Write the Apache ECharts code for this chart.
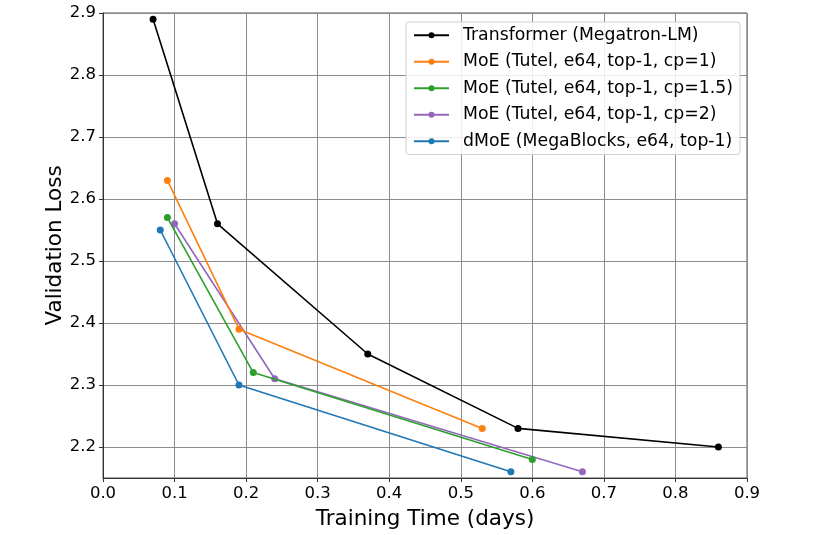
<!DOCTYPE html>
<html>
<head>
<meta charset="utf-8">
<script src="https://cdn.jsdelivr.net/npm/echarts@6/dist/echarts.min.js"></script>
<style>
  html, body { margin: 0; padding: 0; background: #fff; }
  #chart { width: 830px; height: 535px; }
</style>
</head>
<body>
<div id="chart"></div>
<script>
// values
const seriesNames = [
  'Transformer (Megatron-LM)',
  'MoE (Tutel, e64, top-1, cp=1)',
  'MoE (Tutel, e64, top-1, cp=1.5)',
  'MoE (Tutel, e64, top-1, cp=2)',
  'dMoE (MegaBlocks, e64, top-1)'
];
const seriesColors = ['#000000', '#ff7f0e', '#2ca02c', '#9467bd', '#1f77b4'];

const transformerTime = [0.07, 0.16, 0.37, 0.58, 0.86];
const transformerLoss = [2.89, 2.56, 2.35, 2.23, 2.20];
const moeCp1Time = [0.09, 0.19, 0.53];
const moeCp1Loss = [2.63, 2.39, 2.23];
const moeCp15Time = [0.09, 0.21, 0.60];
const moeCp15Loss = [2.57, 2.32, 2.18];
const moeCp2Time = [0.10, 0.24, 0.67];
const moeCp2Loss = [2.56, 2.31, 2.16];
const dmoeTime = [0.08, 0.19, 0.57];
const dmoeLoss = [2.55, 2.30, 2.16];

const yTicks = [2.2, 2.3, 2.4, 2.5, 2.6, 2.7, 2.8, 2.9];

const allTimes = [transformerTime, moeCp1Time, moeCp15Time, moeCp2Time, dmoeTime];
const allLosses = [transformerLoss, moeCp1Loss, moeCp15Loss, moeCp2Loss, dmoeLoss];

const font = 'DejaVu Sans';
const chart = echarts.init(document.getElementById('chart'));

chart.setOption({
  animation: false,
  grid: { left: 103, right: 83, top: 13, bottom: 53, show: true, borderColor: '#555', borderWidth: 1 },
  xAxis: {
    type: 'value',
    min: 0, max: 0.9, interval: 0.1,
    name: 'Training Time (days)',
    nameLocation: 'middle',
    nameGap: 30,
    nameMoveOverlap: false,
    nameTextStyle: { fontFamily: font, fontSize: 21.5, color: '#000' },
    axisLine: { show: true, lineStyle: { color: '#333' } },
    axisTick: { show: true, length: 4, lineStyle: { color: '#333' } },
    axisLabel: { fontFamily: font, fontSize: 16.5, color: '#000', margin: 7, formatter: v => v.toFixed(1) },
    splitLine: { show: true, lineStyle: { color: '#8c8c8c', width: 1 } }
  },
  yAxis: {
    type: 'value',
    min: 2.15, max: 2.9,
    name: 'Validation Loss',
    nameLocation: 'middle',
    nameGap: 37,
    nameMoveOverlap: false,
    nameTextStyle: { fontFamily: font, fontSize: 21.5, color: '#000' },
    axisLine: { show: true, lineStyle: { color: '#333' } },
    axisTick: { show: true, length: 4, lineStyle: { color: '#333' }, customValues: yTicks },
    axisLabel: { fontFamily: font, fontSize: 16.5, color: '#000', margin: 7, customValues: yTicks, formatter: v => v.toFixed(1) },
    splitLine: { show: true, lineStyle: { color: '#8c8c8c', width: 1 } }
  },
  legend: {
    orient: 'vertical',
    left: 406, top: 22,
    padding: [3, 7, 3, 7],
    itemWidth: 35, itemHeight: 7.5, itemGap: 6,
    backgroundColor: 'rgba(255,255,255,0.85)',
    borderColor: '#d0d0d0', borderWidth: 1, borderRadius: 3,
    textStyle: { fontFamily: font, fontSize: 17.3, lineHeight: 20.5, color: '#000', padding: [0, 0, 0, 9] },
    data: seriesNames
  },
  series: seriesNames.map((name, i) => ({
    name: name,
    type: 'line',
    data: allTimes[i].map((t, j) => [t, allLosses[i][j]]),
    symbol: 'circle',
    symbolSize: 7,
    color: seriesColors[i],
    lineStyle: { width: 1.6, color: seriesColors[i] },
    itemStyle: { color: seriesColors[i] },
    z: 10 - i
  }))
});

window.addEventListener('resize', () => chart.resize());
</script>
</body>
</html>
